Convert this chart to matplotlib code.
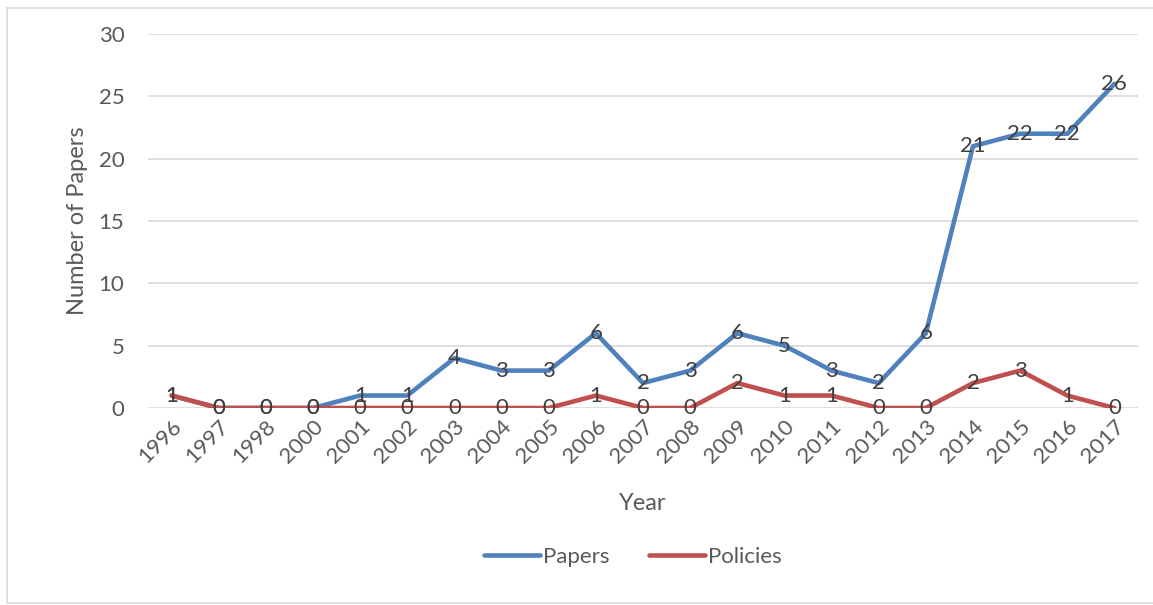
import matplotlib
matplotlib.use("Agg")
import matplotlib.pyplot as plt
from matplotlib.patches import Rectangle

years = ["1996", "1997", "1998", "2000", "2001", "2002", "2003", "2004", "2005", "2006",
         "2007", "2008", "2009", "2010", "2011", "2012", "2013", "2014", "2015", "2016", "2017"]
papers = [1, 0, 0, 0, 1, 1, 4, 3, 3, 6, 2, 3, 6, 5, 3, 2, 6, 21, 22, 22, 26]
policies = [1, 0, 0, 0, 0, 0, 0, 0, 0, 1, 0, 0, 2, 1, 1, 0, 0, 2, 3, 1, 0]
yticks = [0, 5, 10, 15, 20, 25, 30]

plt.rcParams['font.family'] = ['Lato', 'DejaVu Sans']

W, H = 1153, 605
fig = plt.figure(figsize=(W / 100, H / 100), dpi=100)
fig.patches.append(Rectangle((7 / W, 0.003), 1.2, 1 - 8 / H - 0.003, transform=fig.transFigure,
                             fill=False, edgecolor='#d9d9d9', linewidth=1.2))
ax = fig.add_axes([148 / W, 1 - 408 / H, (1138 - 148) / W, (408 - 34) / H])

x = list(range(len(years)))
blue = '#4F81BD'
red = '#C0504D'
ax.plot(x, papers, color=blue, linewidth=3.3, solid_capstyle='round', solid_joinstyle='round', label='Papers', zorder=3)
ax.plot(x, policies, color=red, linewidth=3.3, solid_capstyle='round', solid_joinstyle='round', label='Policies', zorder=4)

for xi, v in zip(x, papers):
    ax.text(xi, v, str(v), ha='center', va='center', fontsize=16, color='#404040', zorder=5)
for xi, v in zip(x, policies):
    ax.text(xi, v, str(v), ha='center', va='center', fontsize=16, color='#404040', zorder=5)

ax.set_xlim(-0.5, len(years) - 0.5)
ax.set_ylim(0, 30)
ax.set_yticks(yticks)
ax.set_xticks(x)
ax.set_xticklabels(years, rotation=45, ha='right', rotation_mode='anchor')
ax.tick_params(axis='both', length=0, labelsize=16, labelcolor='#595959')
ax.tick_params(axis='y', pad=17)
ax.tick_params(axis='x', pad=6)
ax.grid(axis='y', color='#d9d9d9', linewidth=1.2)
ax.set_axisbelow(True)
for s in ax.spines.values():
    s.set_visible(False)

ax.set_xlabel('Year', fontsize=17, color='#595959', labelpad=19)
ax.set_ylabel('Number of Papers', fontsize=17, color='#595959', labelpad=8)

leg = fig.legend(loc='center', bbox_to_anchor=(0.549, 1 - 557 / H), ncol=2, frameon=False,
                 fontsize=16, handlelength=2.5, columnspacing=1.8, handletextpad=0.15)
for t in leg.get_texts():
    t.set_color('#595959')

fig.savefig('out.png', dpi=100)
